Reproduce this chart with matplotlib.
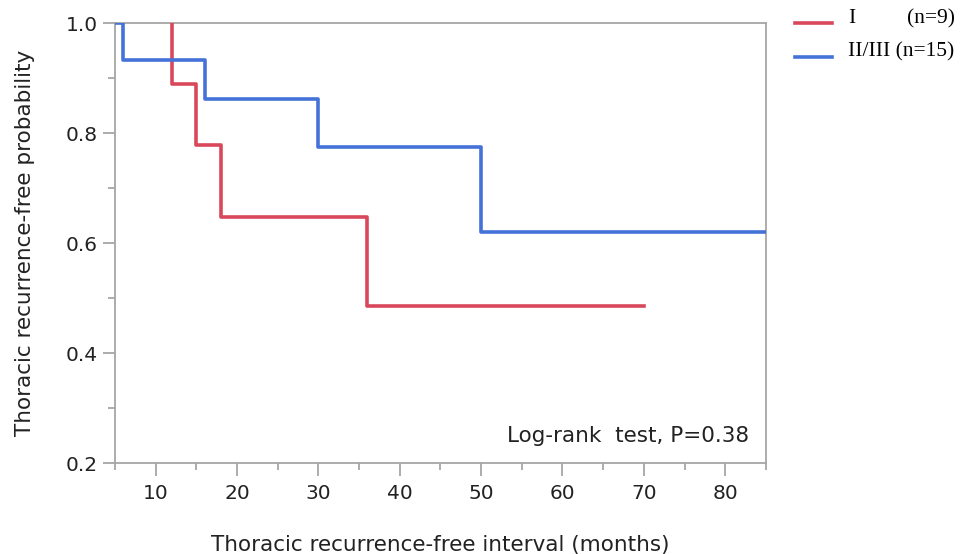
import matplotlib.pyplot as plt
from matplotlib.ticker import MultipleLocator

# Kaplan-Meier step data (months, probability)
stage1_t = [12, 12, 15, 18, 36, 70]
stage1_s = [1.0, 0.889, 0.778, 0.648, 0.486, 0.486]
stage23_t = [5, 6, 16, 30, 50, 85]
stage23_s = [1.0, 0.933, 0.862, 0.775, 0.621, 0.621]

labels = ['I', 'II/III']
counts = ['(n=9)', '(n=15)']
red = '#d9485a'
blue = '#4472d8'
grey = '#a6a6a6'

fig = plt.figure(figsize=(9.67, 5.54), dpi=100)
ax = fig.add_axes([0.119, 0.164, 0.673, 0.794])

ax.step(stage1_t, stage1_s, where='post', color=red, linewidth=2.6, zorder=3)
ax.step(stage23_t, stage23_s, where='post', color=blue, linewidth=2.6, zorder=3)

ax.set_xlim(5, 85)
ax.set_ylim(0.2, 1.0)
ax.xaxis.set_major_locator(MultipleLocator(10))
ax.xaxis.set_minor_locator(MultipleLocator(5))
ax.yaxis.set_major_locator(MultipleLocator(0.2))
ax.yaxis.set_minor_locator(MultipleLocator(0.1))
ax.yaxis.set_major_formatter(plt.FormatStrFormatter('%.1f'))

for s in ax.spines.values():
    s.set_color(grey)
    s.set_linewidth(1.3)
ax.tick_params(which='major', length=9, width=1.3, color=grey, labelsize=14.5, labelcolor='#222222')
ax.tick_params(which='minor', length=5, width=1.3, color=grey)
ax.tick_params(axis='x', pad=6)

ax.set_xlabel('Thoracic recurrence-free interval (months)', fontsize=15.5, color='#222222', labelpad=23)
ax.set_ylabel('Thoracic recurrence-free probability', fontsize=15.5, color='#222222', labelpad=22)

ax.text(0.975, 0.04, 'Log-rank  test, P=0.38', transform=ax.transAxes,
        ha='right', va='bottom', fontsize=15.5, color='#222222')

# legend drawn manually in figure coords
for i, (lab, n, c) in enumerate(zip(labels, counts, [red, blue])):
    y = 0.958 - i * 0.06
    fig.add_artist(plt.Line2D([0.822, 0.860], [y, y], color=c, linewidth=2.6))
    if i == 0:
        fig.text(0.877, y + 0.008, lab, family='Liberation Serif', fontsize=15.5, va='center')
        fig.text(0.988, y + 0.008, n, family='Liberation Serif', fontsize=15.5,
                 va='center', ha='right')
    else:
        fig.text(0.877, y + 0.008, lab + ' ' + n, family='Liberation Serif', fontsize=15.5,
                 va='center')

fig.savefig('out.png', dpi=100)
